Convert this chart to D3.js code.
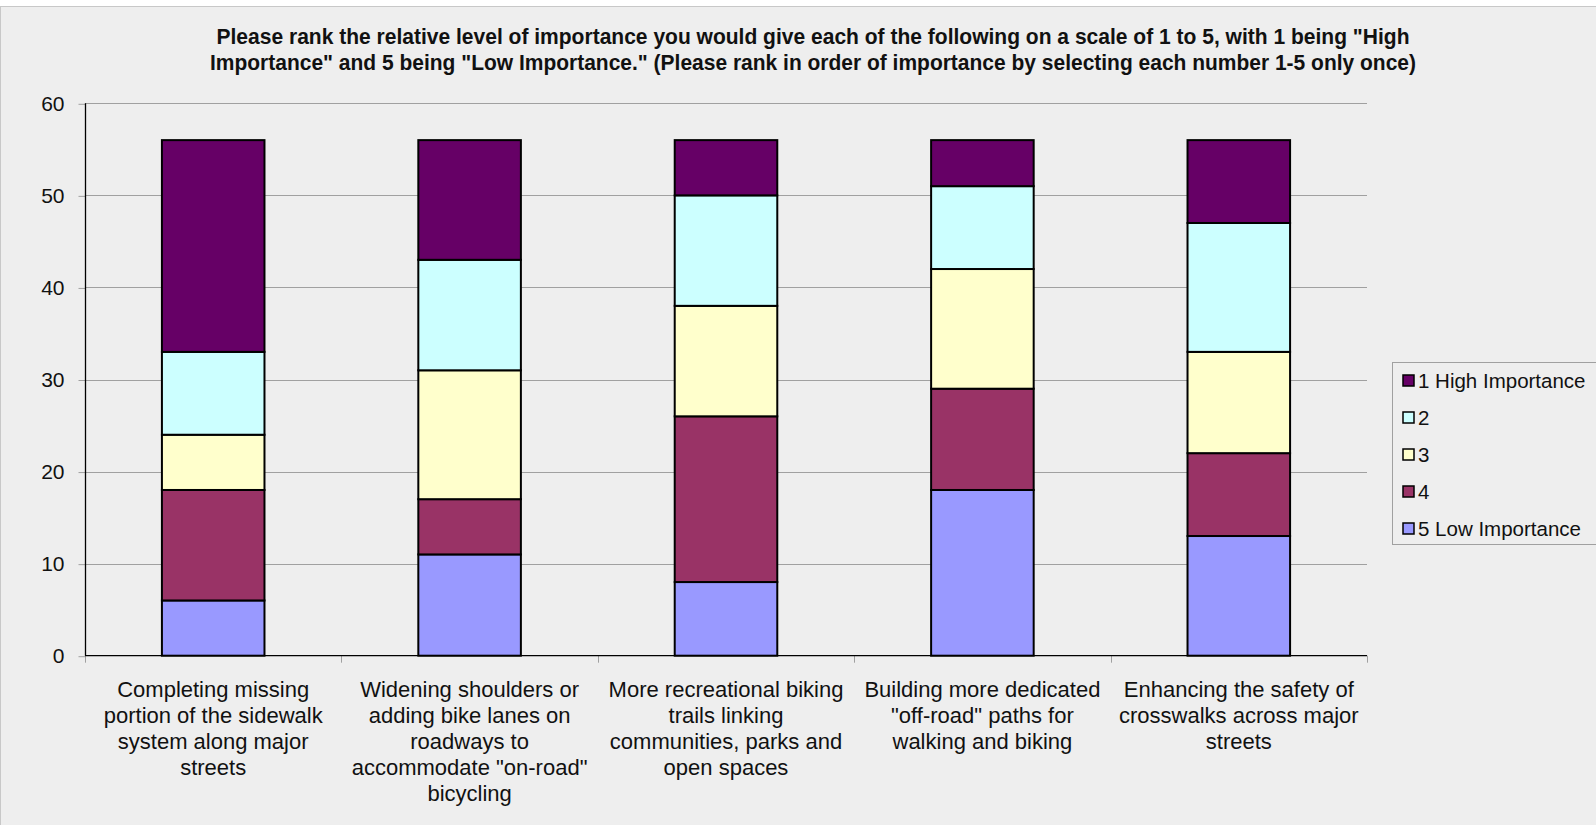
<!DOCTYPE html>
<html>
<head>
<meta charset="utf-8">
<script src="https://cdn.jsdelivr.net/npm/d3@7"></script>
<style>
  html, body { margin: 0; padding: 0; background: #ffffff; }
  svg { display: block; }
  text { font-family: "Liberation Sans", Arial, sans-serif; fill: #111; }
</style>
</head>
<body>
<svg id="chart" width="1596" height="825"></svg>
<script>
// ---- data ----
const categories = [
  "Completing missing\nportion of the sidewalk\nsystem along major\nstreets",
  "Widening shoulders or\nadding bike lanes on\nroadways to\naccommodate \"on-road\"\nbicycling",
  "More recreational biking\ntrails linking\ncommunities, parks and\nopen spaces",
  "Building more dedicated\n\"off-road\" paths for\nwalking and biking",
  "Enhancing the safety of\ncrosswalks across major\nstreets"
];
const seriesNames = ["1 High Importance", "2", "3", "4", "5 Low Importance"];
const highImportance = [23, 13, 6, 5, 9];
const rank2 = [9, 12, 12, 9, 14];
const rank3 = [6, 14, 12, 13, 11];
const rank4 = [12, 6, 18, 11, 9];
const lowImportance = [6, 11, 8, 18, 13];
const yTicks = [0, 10, 20, 30, 40, 50, 60];
const titleLines = [
  "Please rank the relative level of importance you would give each of the following on a scale of 1 to 5, with 1 being \"High",
  "Importance\" and 5 being \"Low Importance.\" (Please rank in order of importance by selecting each number 1-5 only once)"
];
const seriesColors = ["#660066", "#CCFFFF", "#FFFFCC", "#993366", "#9999FF"];

// ---- build table ----
const seriesValues = [highImportance, rank2, rank3, rank4, lowImportance];
const table = categories.map((c, i) => {
  const row = { category: c };
  seriesNames.forEach((s, j) => { row[s] = seriesValues[j][i]; });
  return row;
});
// stack bottom to top: 5, 4, 3, 2, 1
const stackKeys = seriesNames.slice().reverse();
const stacked = d3.stack().keys(stackKeys)(table);
const color = d3.scaleOrdinal().domain(seriesNames).range(seriesColors);

const svg = d3.select("#chart");
const W = 1596, H = 825;

// chart background / frame
svg.append("rect").attr("x", 0.5).attr("y", 6.5).attr("width", W + 10).attr("height", H + 10)
  .attr("fill", "#eeeeee").attr("stroke", "#c8c8c8").attr("stroke-width", 1);

const plot = { left: 85, right: 1367, top: 103.3, bottom: 655.7 };

const x = d3.scaleBand().domain(categories).range([plot.left, plot.right]).paddingInner(0.6).paddingOuter(0.3);
const xBand = d3.scaleBand().domain(categories).range([plot.left, plot.right]);
const y = d3.scaleLinear().domain([0, 60]).range([plot.bottom, plot.top]);

// gridlines
svg.append("g").selectAll("line").data(yTicks.filter(t => t > 0)).join("line")
  .attr("x1", plot.left).attr("x2", plot.right)
  .attr("y1", d => Math.round(y(d)) + 0.5).attr("y2", d => Math.round(y(d)) + 0.5)
  .attr("stroke", "#a0a0a0").attr("stroke-width", 1);

// y axis
const yAxis = d3.axisLeft(y).tickValues(yTicks).tickSize(7).tickPadding(14).tickFormat(d3.format("d"));
const gy = svg.append("g").attr("transform", `translate(${plot.left + 0.5},0.5)`).call(yAxis);
gy.select(".domain").remove();
gy.selectAll(".tick line").attr("stroke", "#a0a0a0");
gy.selectAll(".tick text").attr("font-size", 21).attr("fill", "#111")
  .style("font-family", '"Liberation Sans", Arial, sans-serif');
svg.append("line").attr("x1", plot.left + 0.5).attr("x2", plot.left + 0.5)
  .attr("y1", plot.top).attr("y2", plot.bottom).attr("stroke", "#000").attr("stroke-width", 1.3);

// x axis ticks at category boundaries
const boundaries = categories.map(c => xBand(c)).concat([plot.right]);
svg.append("g").selectAll("line").data(boundaries).join("line")
  .attr("x1", d => Math.round(d) + 0.5).attr("x2", d => Math.round(d) + 0.5)
  .attr("y1", plot.bottom).attr("y2", plot.bottom + 7)
  .attr("stroke", "#a0a0a0").attr("stroke-width", 1);

// bars
const layers = svg.append("g").selectAll("g").data(stacked).join("g")
  .attr("fill", d => color(d.key));
layers.selectAll("rect").data(d => d).join("rect")
  .attr("x", d => x(d.data.category))
  .attr("width", x.bandwidth())
  .attr("y", d => y(d[1]))
  .attr("height", d => y(d[0]) - y(d[1]))
  .attr("stroke", "#000").attr("stroke-width", 2);

// x axis line
svg.append("line").attr("x1", plot.left).attr("x2", plot.right)
  .attr("y1", plot.bottom).attr("y2", plot.bottom).attr("stroke", "#000").attr("stroke-width", 1.3);

// category labels
const labels = svg.append("g").selectAll("text").data(categories).join("text")
  .attr("text-anchor", "middle").attr("font-size", 22)
  .attr("x", d => xBand(d) + xBand.bandwidth() / 2)
  .attr("y", 697);
labels.selectAll("tspan").data(d => d.split("\n").map(l => ({ l, c: d }))).join("tspan")
  .attr("x", d => xBand(d.c) + xBand.bandwidth() / 2)
  .attr("dy", (d, i) => i === 0 ? 0 : 26)
  .text(d => d.l);

// title
const titleWidths = [1193, 1206];
svg.append("g").selectAll("text").data(titleLines).join("text")
  .attr("x", 813).attr("y", (d, i) => 44 + i * 26)
  .attr("text-anchor", "middle").attr("font-size", 21.5).attr("font-weight", "bold")
  .attr("textLength", (d, i) => titleWidths[i]).attr("lengthAdjust", "spacingAndGlyphs")
  .text(d => d);

// legend
const lg = svg.append("g");
lg.append("rect").attr("x", 1392.5).attr("y", 362.5).attr("width", 210).attr("height", 182)
  .attr("fill", "#eeeeee").attr("stroke", "#a0a0a0").attr("stroke-width", 1);
const items = lg.selectAll("g.item").data(seriesNames).join("g").attr("class", "item")
  .attr("transform", (d, i) => `translate(0, ${380.5 + i * 37})`);
items.append("rect").attr("x", 1403).attr("y", -5.5).attr("width", 11).attr("height", 11)
  .attr("fill", d => color(d)).attr("stroke", "#000").attr("stroke-width", 1.5);
items.append("text").attr("x", 1418).attr("y", 7).attr("font-size", 20.5).text(d => d);
</script>
</body>
</html>
